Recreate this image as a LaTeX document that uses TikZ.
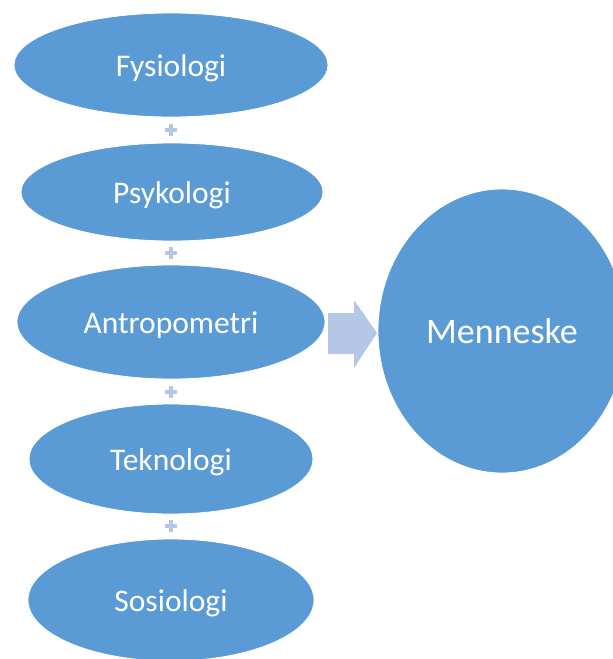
\documentclass[tikz,border=0pt]{standalone}
\usepackage{fontspec}
\setmainfont{Carlito}
\usetikzlibrary{shapes.geometric}
\definecolor{oblue}{HTML}{5B9BD5}
\definecolor{lblue}{HTML}{B4C7E7}
\newcommand{\dn}[1]{\raisebox{-3pt}[\height][\depth]{#1}}
\begin{document}
\begin{tikzpicture}[x=1pt,y=-1pt,
  disc/.style={ellipse, fill=oblue, draw=white, line width=0.8pt, inner sep=0pt, text=white, font=\fontsize{31.5}{31.5}\selectfont},
  plusmark/.style={fill=lblue}]
\useasboundingbox (0,0) rectangle (613,659);
\node[disc, minimum width=314, minimum height=104] (fys) at (171,65) {\dn{Fysiologi}};
\node[disc, minimum width=302, minimum height=98] (psy) at (172,192) {\dn{Psykologi}};
\node[disc, minimum width=308, minimum height=114] (ant) at (171,322) {\dn{Antropometri}};
\node[disc, minimum width=284, minimum height=110] (tek) at (171,459) {\dn{Teknologi}};
\node[disc, minimum width=286, minimum height=122] (sos) at (171,600) {\dn{Sosiologi}};
\node[disc, minimum width=248, minimum height=284, font=\fontsize{36}{36}\selectfont] (men) at (502,331) {Menneske};
% plus signs
\foreach \c in {130,253,392,526}{
  \fill[plusmark] (165,\c-2) rectangle (177,\c+2);
  \fill[plusmark] (169,\c-6) rectangle (173,\c+6);
}
% arrow
\fill[lblue] (328,313) -- (354,313) -- (354,300) -- (377,333) -- (354,368) -- (354,354) -- (328,354) -- cycle;
\end{tikzpicture}
\end{document}
